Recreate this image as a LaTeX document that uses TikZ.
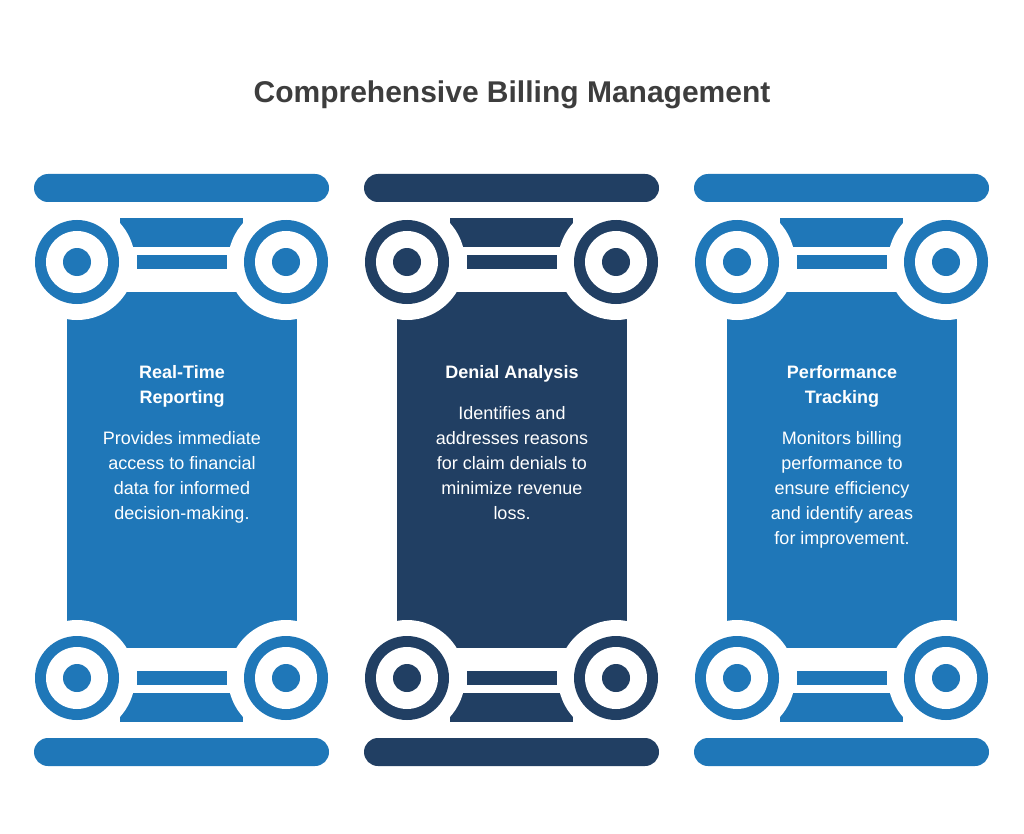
\documentclass[tikz,border=0pt]{standalone}
\usepackage{fontspec}
\setmainfont{Liberation Sans}
\definecolor{cblue}{HTML}{1F77B8}
\definecolor{cnavy}{HTML}{213F63}
\definecolor{ctitle}{HTML}{3D3D3D}
\tikzset{
 head/.style={text=white,font=\fontsize{18}{25}\selectfont\bfseries,align=center},
 body/.style={text=white,font=\fontsize{18}{25}\selectfont,align=center},
}
\newcommand{\capit}[3]{% x0, ycenter, sign (1 top, -1 bottom)
 \begin{scope}[shift={(#1,#2)},yscale=#3]
  \fill[colC,rounded corners=14pt] (0,-88) rectangle (295,-60);
  \fill[colC] (86,-44) rectangle (209,-15);
  \fill[colC] (103,-7) rectangle (193,7);
  \fill[colC] (33,30) rectangle (263,80);
  \fill[white] (43,0) circle (58pt) (252,0) circle (58pt);
  \foreach \cx in {43,252}{
   \fill[colC] (\cx,0) circle (42pt);
   \fill[white] (\cx,0) circle (31pt);
   \fill[colC] (\cx,0) circle (14pt);}
 \end{scope}}
\begin{document}
\begin{tikzpicture}[x=1pt,y=-1pt]
\useasboundingbox (0,0) rectangle (1024,834);
\node[font=\fontsize{30}{34}\selectfont\bfseries,text=ctitle] (title) at (512,95) {Comprehensive Billing Management};
\foreach \x/\c in {34/cblue,364/cnavy,694/cblue}{
 \colorlet{colC}{\c}
 \fill[colC] (\x+33,300) rectangle (\x+263,640);
 \capit{\x}{262}{1}
 \capit{\x}{678}{-1}
}
\node[head,anchor=north] (h1) at (182,362) {Real-Time\\Reporting};
\node[body,anchor=north] (b1) at (182,428) {Provides immediate\\access to financial\\data for informed\\decision-making.};
\node[head,anchor=north] (h2) at (512,362) {Denial Analysis};
\node[body,anchor=north] (b2) at (512,403) {Identifies and\\addresses reasons\\for claim denials to\\minimize revenue\\loss.};
\node[head,anchor=north] (h3) at (842,362) {Performance\\Tracking};
\node[body,anchor=north] (b3) at (842,428) {Monitors billing\\performance to\\ensure efficiency\\and identify areas\\for improvement.};
\end{tikzpicture}
\end{document}
